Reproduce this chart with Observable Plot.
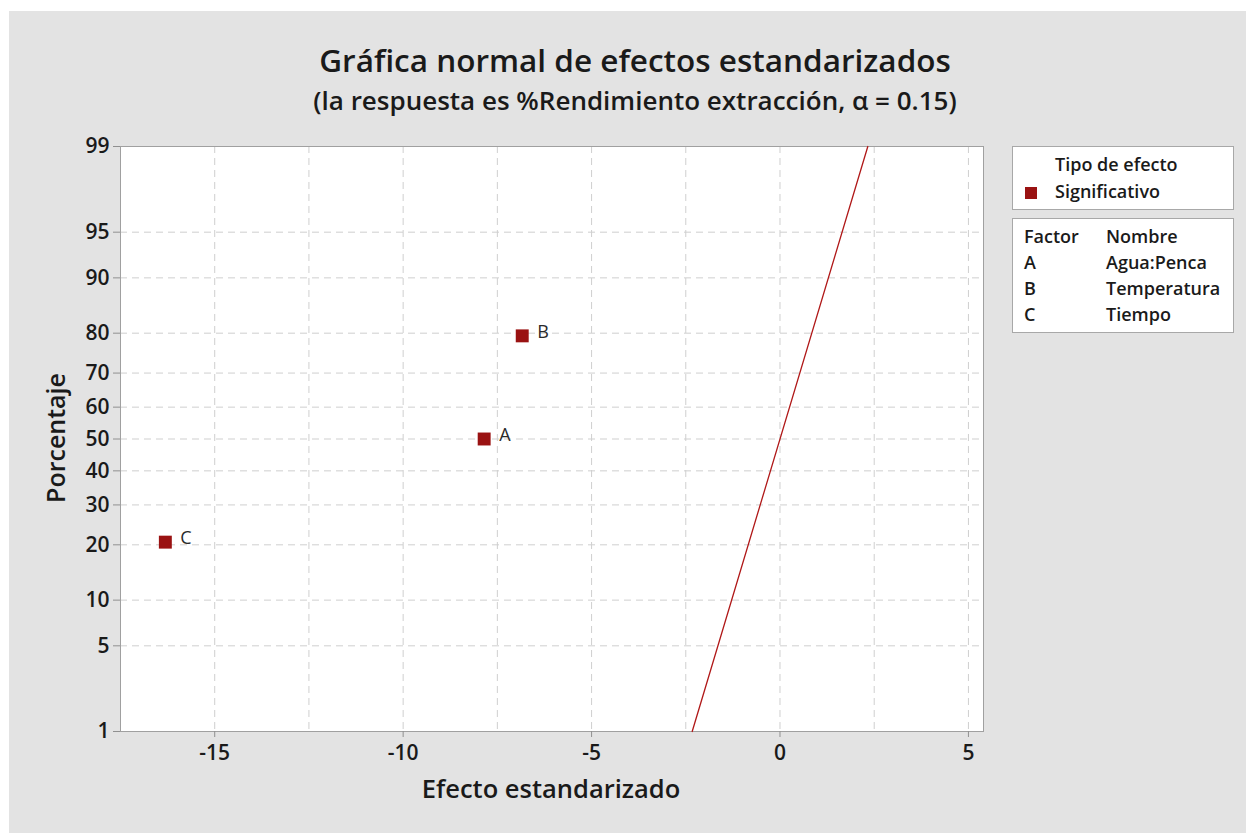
<!DOCTYPE html>
<html>
<head>
<meta charset="utf-8">
<script src="https://cdn.jsdelivr.net/npm/d3@7"></script>
<script src="https://cdn.jsdelivr.net/npm/@observablehq/plot@0.6"></script>
<style>
  body { margin: 0; background: #ffffff; font-family: "Open Sans", "Noto Sans", sans-serif; color: #1a1a1a; }
  #fig { position: absolute; left: 9px; top: 11px; width: 1237px; height: 822px; background: #e3e3e3; overflow: hidden; }
  #chart { position: absolute; left: 0; top: 0; }
  .title { position: absolute; left: 0; width: 1252px; text-align: center; font-weight: 600; white-space: nowrap; }
  #t1 { top: 27px; font-size: 31.5px; }
  #t2 { top: 71px; font-size: 26px; }
  #ylab { position: absolute; left: 46px; top: 427px; font-size: 25px; font-weight: 600; transform: translate(-50%, -50%) rotate(-90deg); white-space: nowrap; }
  #xlab { position: absolute; left: 542px; top: 777px; font-size: 25.5px; font-weight: 600; transform: translate(-50%, -50%); white-space: nowrap; }
  .box { position: absolute; left: 1003px; width: 220px; background: #fff; border: 1px solid #a8a8a8; font-size: 18px; font-weight: 600; }
  #box1 { top: 135px; height: 62px; }
  #box2 { top: 207px; height: 113px; }
  .row { position: absolute; white-space: nowrap; transform: translateY(-50%); }
  .sw { position: absolute; width: 12px; height: 12px; background: #9a1212; }
</style>
</head>
<body>
<div id="fig">
  <div id="chart"></div>
  <div class="title" id="t1"></div>
  <div class="title" id="t2"></div>
  <div id="ylab"></div>
  <div id="xlab"></div>
  <div class="box" id="box1"></div>
  <div class="box" id="box2"></div>
</div>
<script>
// Standardized effects (factor, effect, plotting percentile)
const factors = ["C", "A", "B"];
const effects = [-16.31, -7.85, -6.84];
const percents = [20.6, 50, 79.4];

// Reference line endpoints (effect, percent)
const refEffects = [-2.33, 2.33];
const refPercents = [1, 99];

// Axis ticks
const percentTicks = [1, 5, 10, 20, 30, 40, 50, 60, 70, 80, 90, 95, 99];
const effectTicks = [-15, -10, -5, 0, 5];
const effectGrid = [-15, -12.5, -10, -7.5, -5, -2.5, 0, 2.5, 5];

// Legend contents
const legendTitle = "Tipo de efecto";
const legendEntry = "Significativo";
const factorCodes = ["A", "B", "C"];
const factorNames = ["Agua:Penca", "Temperatura", "Tiempo"];

const titleText = "Gráfica normal de efectos estandarizados";
const subtitleText = "(la respuesta es %Rendimiento extracción, α = 0.15)";
const xLabel = "Efecto estandarizado";
const yLabel = "Porcentaje";

// Inverse of the standard normal CDF (Acklam's rational approximation)
function probit(p) {
  const a = [-3.969683028665376e+01, 2.209460984245205e+02, -2.759285104469687e+02, 1.383577518672690e+02, -3.066479806614716e+01, 2.506628277459239e+00];
  const b = [-5.447609879822406e+01, 1.615858368580409e+02, -1.556989798598866e+02, 6.680131188771972e+01, -1.328068155288572e+01];
  const c = [-7.784894002430293e-03, -3.223964580411365e-01, -2.400758277161838e+00, -2.549732539343734e+00, 4.374664141464968e+00, 2.938163982698783e+00];
  const d = [7.784695709041462e-03, 3.224671290700398e-01, 2.445134137142996e+00, 3.754408661907416e+00];
  const pl = 0.02425, ph = 1 - pl;
  if (p < pl) {
    const q = Math.sqrt(-2 * Math.log(p));
    return (((((c[0]*q+c[1])*q+c[2])*q+c[3])*q+c[4])*q+c[5]) / ((((d[0]*q+d[1])*q+d[2])*q+d[3])*q+1);
  }
  if (p <= ph) {
    const q = p - 0.5, r = q * q;
    return (((((a[0]*r+a[1])*r+a[2])*r+a[3])*r+a[4])*r+a[5])*q / (((((b[0]*r+b[1])*r+b[2])*r+b[3])*r+b[4])*r+1);
  }
  const q = Math.sqrt(-2 * Math.log(1 - p));
  return -(((((c[0]*q+c[1])*q+c[2])*q+c[3])*q+c[4])*q+c[5]) / ((((d[0]*q+d[1])*q+d[2])*q+d[3])*q+1);
}
const z = pct => probit(pct / 100);

const points = factors.map((f, i) => ({factor: f, effect: effects[i], pct: percents[i]}));
const refLine = refEffects.map((e, i) => ({effect: e, pct: refPercents[i]}));
const zTicks = percentTicks.map(z);

const red = "#9a1212";
const tickFont = 21;

const chart = Plot.plot({
  width: 1237,
  height: 822,
  marginLeft: 111,
  marginRight: 263,
  marginTop: 135,
  marginBottom: 102,
  style: {background: "transparent", fontFamily: "'Open Sans', 'Noto Sans', sans-serif", color: "#1a1a1a", overflow: "visible"},
  x: {domain: [-17.5, 5.4], label: null},
  y: {domain: [z(1), z(99)], label: null},
  marks: [
    Plot.frame({fill: "#fff"}),
    Plot.gridY(zTicks.slice(1, -1), {stroke: "#cfcfcf", strokeOpacity: 1, strokeDasharray: "7,5"}),
    Plot.gridX(effectGrid, {stroke: "#cfcfcf", strokeOpacity: 1, strokeDasharray: "7,5"}),
    Plot.frame({stroke: "#a0a0a0"}),
    Plot.axisX(effectTicks, {tickSize: 6, tickPadding: 8, stroke: "#909090", label: null, fontSize: tickFont, fontWeight: 600,
      tickFormat: v => String(v)}),
    Plot.axisY(zTicks, {tickSize: 7, tickPadding: 4, stroke: "#909090", label: null, fontSize: tickFont, fontWeight: 600,
      tickFormat: v => String(percentTicks[zTicks.indexOf(v)])}),
    Plot.line(refLine, {x: "effect", y: d => z(d.pct), stroke: "#b01818", strokeWidth: 1.3}),
    Plot.dot(points, {x: "effect", y: d => z(d.pct), symbol: "square", r: 7.3, fill: red, stroke: "none"}),
    Plot.text(points, {x: "effect", y: d => z(d.pct), text: "factor", dx: 15, dy: -4, textAnchor: "start", fontSize: 18, fill: "#2a2a2a"})
  ]
});
document.getElementById("chart").appendChild(chart);

// Tick label text: size and weight set on each label group
chart.querySelectorAll('g[aria-label="x-axis tick label"], g[aria-label="y-axis tick label"]').forEach(g => {
  g.setAttribute("font-size", tickFont);
  g.setAttribute("font-weight", 600);
  g.style.fontSize = tickFont + "px";
  g.style.fontWeight = "600";
});

document.getElementById("t1").textContent = titleText;
document.getElementById("t2").textContent = subtitleText;
document.getElementById("xlab").textContent = xLabel;
document.getElementById("ylab").textContent = yLabel;

function addRow(parent, text, left, top) {
  const el = document.createElement("div");
  el.className = "row";
  el.style.left = left + "px";
  el.style.top = top + "px";
  el.textContent = text;
  parent.appendChild(el);
}
const box1 = document.getElementById("box1");
addRow(box1, legendTitle, 42, 17);
addRow(box1, legendEntry, 42, 44);
const sw = document.createElement("div");
sw.className = "sw";
sw.style.left = "12px";
sw.style.top = "40px";
box1.appendChild(sw);

const box2 = document.getElementById("box2");
addRow(box2, "Factor", 11, 17);
addRow(box2, "Nombre", 93, 17);
factorCodes.forEach((c, i) => {
  addRow(box2, c, 11, 43 + 26 * i);
  addRow(box2, factorNames[i], 93, 43 + 26 * i);
});
</script>
</body>
</html>
